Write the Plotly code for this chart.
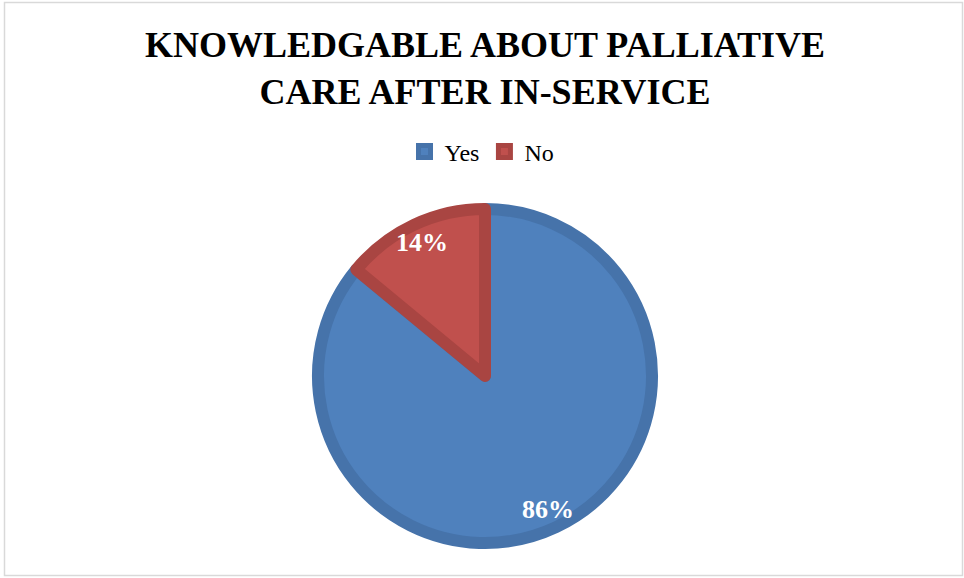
import math
import plotly.graph_objects as go

# Survey responses
labels = ["Yes", "No"]
shares = [86, 14]
fill_colors = ["#4F81BD", "#C0504D"]
edge_colors = ["#4673AA", "#A94542"]

W, H = 964, 578
cx, cy = 485, 376          # pie centre in pixels (from top-left)
r_outer = 173              # outer edge including the rim
rim = 12                   # slice outline width (half sits outside the path)
r_path = r_outer - rim / 2

dom_x = [(cx - r_path) / W, (cx + r_path) / W]
dom_y = [(H - cy - r_path) / H, (H - cy + r_path) / H]

fig = go.Figure(
    go.Pie(
        labels=labels,
        values=shares,
        sort=False,
        direction="clockwise",
        rotation=0,
        marker=dict(colors=fill_colors, line=dict(color=edge_colors, width=rim)),
        textinfo="none",
        hoverinfo="label+percent",
        domain=dict(x=dom_x, y=dom_y),
    )
)

# Percentage labels placed along each slice's mid-angle
total = sum(shares)
start = 0.0
annotations = []
for lab, v in zip(labels, shares):
    frac = v / total
    mid = (start + frac / 2) * 2 * math.pi
    start += frac
    rr = 0.85 * r_outer
    px = cx + rr * math.sin(mid)
    py = cy - rr * math.cos(mid)
    annotations.append(
        dict(
            x=px / W,
            y=(H - py) / H,
            xref="paper",
            yref="paper",
            text=f"{round(frac * 100)}%",
            showarrow=False,
            font=dict(family="Liberation Serif", size=26, color="white", weight="bold"),
            xanchor="center",
            yanchor="middle",
        )
    )

fig.update_layout(
    width=W,
    height=H,
    margin=dict(l=0, r=0, t=0, b=0),
    paper_bgcolor="white",
    plot_bgcolor="white",
    title=dict(
        text="KNOWLEDGABLE ABOUT PALLIATIVE<br>CARE AFTER IN-SERVICE",
        font=dict(family="Liberation Serif", size=36, color="black", weight="bold"),
        x=485 / W,
        xanchor="center",
        y=1 - 57 / H,
        yanchor="top",
        yref="container",
    ),
    legend=dict(
        orientation="h",
        x=482 / W,
        xanchor="center",
        y=(H - 152) / H,
        yanchor="middle",
        font=dict(family="Liberation Serif", size=24, color="black"),
        itemwidth=30,
    ),
    annotations=annotations,
    shapes=[
        dict(
            type="rect",
            xref="paper",
            yref="paper",
            x0=4.5 / W,
            x1=962.5 / W,
            y0=(H - 575.5) / H,
            y1=(H - 2.5) / H,
            line=dict(color="#D9D9D9", width=1.5),
            fillcolor="rgba(0,0,0,0)",
            layer="below",
        )
    ],
)

fig.write_html("out.html")
